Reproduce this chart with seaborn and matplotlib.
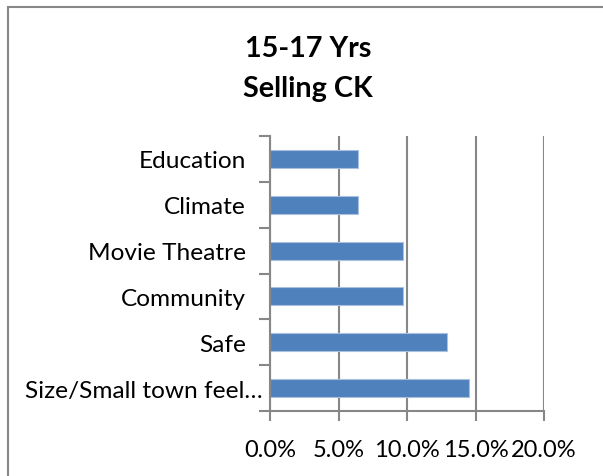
import matplotlib
matplotlib.use("Agg")
import matplotlib.pyplot as plt
import matplotlib.transforms as mtransforms
from matplotlib.patches import Rectangle
from matplotlib.ticker import FixedLocator, PercentFormatter
import seaborn as sns
import pandas as pd

categories = ["Education", "Climate", "Movie Theatre", "Community", "Safe", "Size/Small town feel\u2026"]
values = [6.45, 6.45, 9.68, 9.68, 12.9, 14.52]
x_ticks = [0, 5, 10, 15, 20]
title = "15-17 Yrs\nSelling CK"

sns.set_theme(style="white")
plt.rcParams['font.family'] = ['Lato', 'DejaVu Sans']
plt.rcParams['text.color'] = 'black'

df = pd.DataFrame({"cat": categories, "val": values})

fig = plt.figure(figsize=(6.03, 4.77), dpi=100)
ax = fig.add_axes([270/603, 65/477, 274/603, 275/477])

grey = "#878787"
sns.barplot(data=df, x="val", y="cat", orient="h", color="#4F81BD",
            width=0.39, edgecolor="#A9C0DE", linewidth=0.8, saturation=1, ax=ax)

ax.set_xlim(0, 20)
ax.set_ylim(5.5, -0.5)
ax.set_xticks(x_ticks)
ax.xaxis.set_major_formatter(PercentFormatter(decimals=1))
ax.set_xlabel("")
ax.set_ylabel("")
ax.grid(axis="x", color=grey, linewidth=1.5)
ax.set_axisbelow(True)
for s in ["top", "right"]:
    ax.spines[s].set_visible(False)
for s in ["left", "bottom"]:
    ax.spines[s].set_color(grey)
    ax.spines[s].set_linewidth(1.5)

ax.tick_params(axis="x", length=7, width=1.5, color=grey, pad=13, labelsize=17, labelcolor="black", direction="out", bottom=True)
ax.tick_params(axis="y", which="major", length=0, pad=5, labelsize=17.6, labelcolor="black")
ax.yaxis.set_minor_locator(FixedLocator([i - 0.5 for i in range(len(categories) + 1)]))
ax.tick_params(axis="y", which="minor", length=8, width=1.5, color=grey, direction="out", left=True)

offset = mtransforms.ScaledTranslation(-17/100, 0, fig.dpi_scale_trans)
for lab in ax.get_yticklabels()[:-1]:
    lab.set_transform(lab.get_transform() + offset)

fig.text(308/603, 1 - 69/477, title, ha="center", va="center", fontsize=20.7,
         fontweight="bold", linespacing=1.62, color="black")

fig.patches.append(Rectangle((7.5/603, -0.1), 1.2, (477 - 7.5)/477 + 0.1,
                             transform=fig.transFigure, fill=False,
                             edgecolor=grey, linewidth=1.5))

fig.savefig("out.png", dpi=100)
